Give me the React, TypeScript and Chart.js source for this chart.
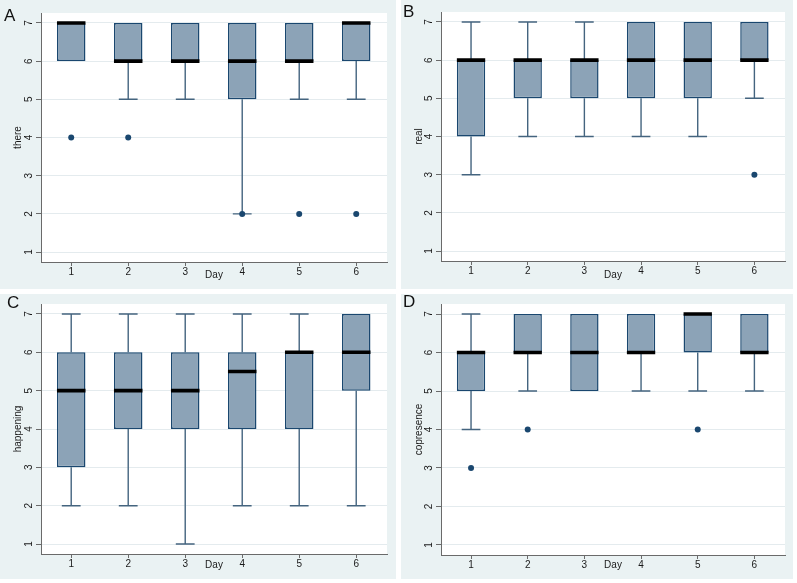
import React, { useEffect, useRef } from 'react';
import { Chart, registerables } from 'chart.js';

Chart.register(...registerables);

// ---------- data ----------
const days = [1, 2, 3, 4, 5, 6];
const yTickValues = [1, 2, 3, 4, 5, 6, 7];
const xTitle = 'Day';

// Panel A: "there"
const thereLow = [6, 5, 5, 2, 5, 5];
const thereQ1 = [6, 6, 6, 5, 6, 6];
const thereMedian = [7, 6, 6, 6, 6, 7];
const thereQ3 = [7, 7, 7, 7, 7, 7];
const thereHigh = [7, 7, 7, 7, 7, 7];
const thereOutlierDays = [1, 2, 4, 5, 6];
const thereOutlierValues = [4, 4, 2, 2, 2];

// Panel B: "real"
const realLow = [3, 4, 4, 4, 4, 5];
const realQ1 = [4, 5, 5, 5, 5, 6];
const realMedian = [6, 6, 6, 6, 6, 6];
const realQ3 = [6, 6, 6, 7, 7, 7];
const realHigh = [7, 7, 7, 7, 7, 7];
const realOutlierDays = [6];
const realOutlierValues = [3];

// Panel C: "happening"
const happeningLow = [2, 2, 1, 2, 2, 2];
const happeningQ1 = [3, 4, 4, 4, 4, 5];
const happeningMedian = [5, 5, 5, 5.5, 6, 6];
const happeningQ3 = [6, 6, 6, 6, 6, 7];
const happeningHigh = [7, 7, 7, 7, 7, 7];
const happeningOutlierDays: number[] = [];
const happeningOutlierValues: number[] = [];

// Panel D: "copresence"
const copresenceLow = [4, 5, 5, 5, 5, 5];
const copresenceQ1 = [5, 6, 5, 6, 6, 6];
const copresenceMedian = [6, 6, 6, 6, 7, 6];
const copresenceQ3 = [6, 7, 7, 7, 7, 7];
const copresenceHigh = [7, 7, 7, 7, 7, 7];
const copresenceOutlierDays = [1, 2, 5];
const copresenceOutlierValues = [3, 4, 4];

// ---------- style ----------
const FONT_FAMILY = '"Liberation Sans", Arial, Helvetica, sans-serif';
const PANEL_BG = '#eaf2f3';
const BOX_FILL = '#8ca3b7';
const NAVY = '#1a476f';
const WHISKER = '#44647f';
const AXIS = '#6a6a6a';
const GRID = '#e4ebee';
const TEXT = '#1a1a1a';
const BOX_HALF = 0.25; // half box width in day units (barPercentage 0.5)
const CAP_HALF = 0.165;

type Layout = {
  x: number; y: number; w: number; h: number;
  left: number; right: number; top: number; bottom: number;
  letterX: number; letterY: number;
};

type PanelProps = {
  letter: string;
  yTitle: string;
  low: number[]; q1: number[]; median: number[]; q3: number[]; high: number[];
  outDays: number[]; outValues: number[];
  layout: Layout;
};

const whiteArea = {
  id: 'whiteArea',
  beforeDraw(chart: any) {
    const { ctx, chartArea } = chart;
    ctx.save();
    ctx.fillStyle = '#ffffff';
    ctx.fillRect(chartArea.left, chartArea.top, chartArea.right - chartArea.left, chartArea.bottom - chartArea.top);
    ctx.restore();
  },
};

function Panel({ letter, yTitle, low, q1, median, q3, high, outDays, outValues, layout }: PanelProps) {
  const ref = useRef<HTMLCanvasElement | null>(null);

  useEffect(() => {
    if (!ref.current) return;
    const L = layout;
    const font = { family: FONT_FAMILY, size: 10 };

    const boxData = days.map((d, i) => ({ x: d, y: [q1[i], q3[i]] }));
    const whiskerData: any[] = [];
    days.forEach((d, i) => {
      if (high[i] > q3[i]) {
        whiskerData.push({ x: d, y: q3[i] }, { x: d, y: high[i] }, { x: d, y: null });
        whiskerData.push({ x: d - CAP_HALF, y: high[i] }, { x: d + CAP_HALF, y: high[i] }, { x: d, y: null });
      }
      if (low[i] < q1[i]) {
        whiskerData.push({ x: d, y: q1[i] }, { x: d, y: low[i] }, { x: d, y: null });
        whiskerData.push({ x: d - CAP_HALF, y: low[i] }, { x: d + CAP_HALF, y: low[i] }, { x: d, y: null });
      }
    });
    const medianData: any[] = [];
    days.forEach((d, i) => {
      medianData.push({ x: d - BOX_HALF, y: median[i] }, { x: d + BOX_HALF, y: median[i] }, { x: d, y: null });
    });
    const outlierData = outDays.map((d, i) => ({ x: d, y: outValues[i] }));

    const chart = new Chart(ref.current, {
      type: 'bar',
      data: {
        datasets: [
          {
            type: 'line',
            data: whiskerData,
            borderColor: WHISKER,
            borderWidth: 1.4,
            pointRadius: 0,
            spanGaps: false,
            order: 3,
          } as any,
          {
            type: 'bar',
            data: boxData,
            backgroundColor: BOX_FILL,
            borderColor: NAVY,
            borderWidth: 1.5,
            borderSkipped: false,
            barPercentage: 0.5,
            categoryPercentage: 1,
            order: 2,
          } as any,
          {
            type: 'line',
            data: medianData,
            borderColor: '#000000',
            borderWidth: 3.6,
            borderCapStyle: 'butt',
            pointRadius: 0,
            spanGaps: false,
            order: 1,
          } as any,
          {
            type: 'scatter',
            data: outlierData,
            backgroundColor: NAVY,
            borderWidth: 0,
            pointRadius: 3,
            showLine: false,
            order: 0,
          } as any,
        ],
      },
      options: {
        responsive: false,
        animation: false,
        events: [],
        layout: { padding: { left: 0, top: L.top, right: L.w - L.right, bottom: 0 } },
        plugins: {
          legend: { display: false },
          tooltip: { enabled: false },
          title: { display: false },
        },
        scales: {
          x: {
            type: 'linear',
            min: 0.47,
            max: 6.54,
            offset: false,
            afterBuildTicks: (s: any) => { s.ticks = days.map((v) => ({ value: v })); },
            afterFit: (s: any) => { s.height = L.h - L.bottom; s.paddingLeft = 0; s.paddingRight = 0; },
            grid: { display: true, drawOnChartArea: false, drawTicks: true, tickLength: 4, tickColor: AXIS, offset: false },
            border: { display: true, color: AXIS, width: 1 },
            ticks: { padding: 0, color: TEXT, font, maxRotation: 0, autoSkip: false },
            title: { display: true, text: xTitle, color: TEXT, font, padding: { top: 0, bottom: 8 } },
          },
          y: {
            type: 'linear',
            min: 0.74,
            max: 7.26,
            afterBuildTicks: (s: any) => { s.ticks = yTickValues.map((v) => ({ value: v })); },
            afterFit: (s: any) => { s.width = L.left; s.paddingTop = 0; s.paddingBottom = 0; },
            grid: { color: GRID, lineWidth: 1, drawTicks: true, tickLength: 5, tickColor: AXIS },
            border: { display: true, color: AXIS, width: 1 },
            ticks: { minRotation: 90, maxRotation: 90, crossAlign: 'center', padding: 3.5, color: TEXT, font, autoSkip: false },
            title: { display: true, text: yTitle, color: TEXT, font, padding: { top: 12.5, bottom: 0 } },
          },
        },
      } as any,
      plugins: [whiteArea],
    });
    return () => chart.destroy();
  }, []);

  return (
    <div style={{ position: 'absolute', left: layout.x, top: layout.y, width: layout.w, height: layout.h, background: PANEL_BG }}>
      <canvas ref={ref} width={layout.w} height={layout.h} style={{ display: 'block' }} />
      <div style={{ position: 'absolute', left: layout.letterX, top: layout.letterY, fontFamily: FONT_FAMILY, fontSize: 17, lineHeight: '17px', color: '#111' }}>{letter}</div>
    </div>
  );
}

const layoutA: Layout = { x: 0, y: 0, w: 396, h: 289, left: 41, right: 387, top: 13, bottom: 262, letterX: 4, letterY: 7 };
const layoutB: Layout = { x: 401, y: 0, w: 392, h: 289, left: 40, right: 384, top: 12, bottom: 261, letterX: 2, letterY: 3 };
const layoutC: Layout = { x: 0, y: 294, w: 396, h: 285, left: 41, right: 387, top: 10, bottom: 260, letterX: 7, letterY: 0 };
const layoutD: Layout = { x: 401, y: 294, w: 392, h: 285, left: 40, right: 384, top: 10, bottom: 261, letterX: 2, letterY: -1 };

export default function App() {
  return (
    <div style={{ position: 'fixed', left: 0, top: 0, width: 797, height: 583, background: '#ffffff', overflow: 'hidden' }}>
      <Panel letter="A" yTitle="there" low={thereLow} q1={thereQ1} median={thereMedian} q3={thereQ3} high={thereHigh}
        outDays={thereOutlierDays} outValues={thereOutlierValues} layout={layoutA} />
      <Panel letter="B" yTitle="real" low={realLow} q1={realQ1} median={realMedian} q3={realQ3} high={realHigh}
        outDays={realOutlierDays} outValues={realOutlierValues} layout={layoutB} />
      <Panel letter="C" yTitle="happening" low={happeningLow} q1={happeningQ1} median={happeningMedian} q3={happeningQ3} high={happeningHigh}
        outDays={happeningOutlierDays} outValues={happeningOutlierValues} layout={layoutC} />
      <Panel letter="D" yTitle="copresence" low={copresenceLow} q1={copresenceQ1} median={copresenceMedian} q3={copresenceQ3} high={copresenceHigh}
        outDays={copresenceOutlierDays} outValues={copresenceOutlierValues} layout={layoutD} />
    </div>
  );
}
